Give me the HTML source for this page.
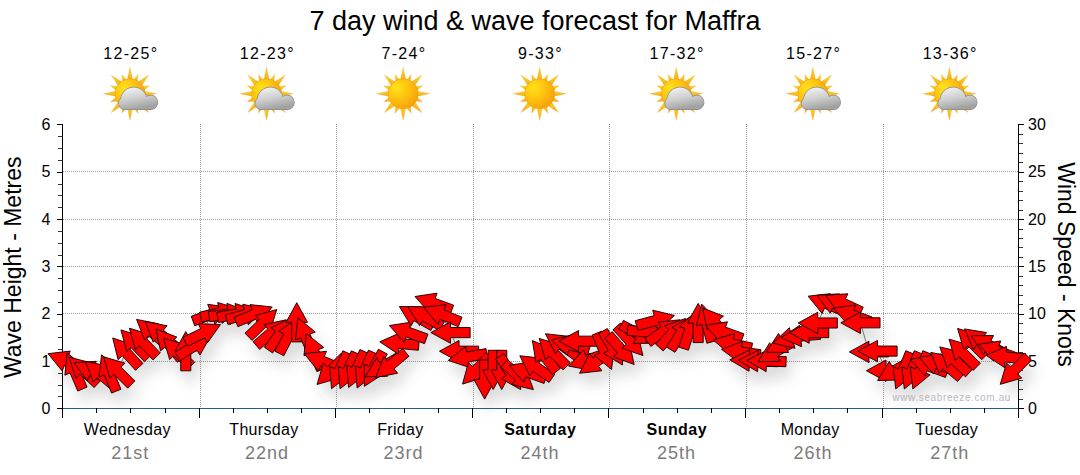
<!DOCTYPE html><html><head><meta charset="utf-8"><title>7 day wind &amp; wave forecast for Maffra</title>
<style>html,body{margin:0;padding:0;background:#fff;width:1080px;height:475px;overflow:hidden}svg{display:block}text{font-family:"Liberation Sans",sans-serif}</style></head><body>
<svg width="1080" height="475" viewBox="0 0 1080 475">
<defs><radialGradient id="sunG" cx="0.3" cy="0.3" r="0.85"><stop offset="0" stop-color="#FFE21A"/><stop offset="0.5" stop-color="#FFBE0E"/><stop offset="1" stop-color="#F29A0C"/></radialGradient><linearGradient id="rayG" x1="0" y1="0" x2="0" y2="1"><stop offset="0" stop-color="#FFD820"/><stop offset="1" stop-color="#F5A61C"/></linearGradient><linearGradient id="cloudG" x1="0" y1="0" x2="0.3" y2="1"><stop offset="0" stop-color="#F2F2F2"/><stop offset="0.55" stop-color="#C8C8C8"/><stop offset="1" stop-color="#9E9E9E"/></linearGradient><linearGradient id="cloudGU" gradientUnits="userSpaceOnUse" x1="0" y1="-6" x2="4" y2="15.5"><stop offset="0" stop-color="#F0F0F0"/><stop offset="0.5" stop-color="#CFCFCF"/><stop offset="1" stop-color="#A2A2A2"/></linearGradient><clipPath id="cloudClipO"><rect x="-30" y="-30" width="70" height="46.2"/></clipPath><clipPath id="cloudClipI"><rect x="-30" y="-30" width="70" height="45.5"/></clipPath><filter id="shadow" x="-20%" y="-50%" width="140%" height="200%"><feGaussianBlur stdDeviation="7"/></filter></defs>
<text x="535" y="29.8" font-size="27" text-anchor="middle" fill="#000">7 day wind &amp; wave forecast for Maffra</text>
<text x="130.8" y="58.8" font-size="16" letter-spacing="1.3" text-anchor="middle" fill="#000">12-25°</text>
<polygon points="132.99,81.30 129.99,67.30 126.99,81.30" fill="url(#rayG)" stroke="#e8a020" stroke-width="0.4" stroke-opacity="0.6"/><polygon points="137.17,83.25 138.02,74.40 132.37,81.26" fill="url(#rayG)" stroke="#e8a020" stroke-width="0.4" stroke-opacity="0.6"/><polygon points="140.95,87.08 148.72,75.06 136.70,82.84" fill="url(#rayG)" stroke="#e8a020" stroke-width="0.4" stroke-opacity="0.6"/><polygon points="142.53,91.42 149.39,85.76 140.54,86.61" fill="url(#rayG)" stroke="#e8a020" stroke-width="0.4" stroke-opacity="0.6"/><polygon points="142.49,96.80 156.49,93.80 142.49,90.80" fill="url(#rayG)" stroke="#e8a020" stroke-width="0.4" stroke-opacity="0.6"/><polygon points="140.54,100.99 149.39,101.84 142.53,96.18" fill="url(#rayG)" stroke="#e8a020" stroke-width="0.4" stroke-opacity="0.6"/><polygon points="136.70,104.76 148.72,112.54 140.95,100.52" fill="url(#rayG)" stroke="#e8a020" stroke-width="0.4" stroke-opacity="0.6"/><polygon points="132.37,106.34 138.02,113.20 137.17,104.35" fill="url(#rayG)" stroke="#e8a020" stroke-width="0.4" stroke-opacity="0.6"/><polygon points="126.99,106.30 129.99,120.30 132.99,106.30" fill="url(#rayG)" stroke="#e8a020" stroke-width="0.4" stroke-opacity="0.6"/><polygon points="122.80,104.35 121.95,113.20 127.60,106.34" fill="url(#rayG)" stroke="#e8a020" stroke-width="0.4" stroke-opacity="0.6"/><polygon points="119.03,100.52 111.25,112.54 123.27,104.76" fill="url(#rayG)" stroke="#e8a020" stroke-width="0.4" stroke-opacity="0.6"/><polygon points="117.44,96.18 110.58,101.84 119.43,100.99" fill="url(#rayG)" stroke="#e8a020" stroke-width="0.4" stroke-opacity="0.6"/><polygon points="117.49,90.80 103.49,93.80 117.49,96.80" fill="url(#rayG)" stroke="#e8a020" stroke-width="0.4" stroke-opacity="0.6"/><polygon points="119.43,86.61 110.58,85.76 117.44,91.42" fill="url(#rayG)" stroke="#e8a020" stroke-width="0.4" stroke-opacity="0.6"/><polygon points="123.27,82.84 111.25,75.06 119.03,87.08" fill="url(#rayG)" stroke="#e8a020" stroke-width="0.4" stroke-opacity="0.6"/><polygon points="127.60,81.26 121.95,74.40 122.80,83.25" fill="url(#rayG)" stroke="#e8a020" stroke-width="0.4" stroke-opacity="0.6"/><circle cx="130.0" cy="93.8" r="15" fill="url(#sunG)" stroke="#e89a10" stroke-width="0.5"/>
<g transform="translate(129.99,93.80)"><g clip-path="url(#cloudClipO)"><g fill="#8a8a8a" stroke="#8a8a8a" stroke-width="1.3"><circle cx="3.8" cy="6.6" r="12.9"/><circle cx="20.6" cy="8.6" r="6.9"/><circle cx="-5.3" cy="9.6" r="5.9"/><rect x="-5.3" y="8" width="25.9" height="7.5"/></g></g><g clip-path="url(#cloudClipI)" fill="url(#cloudGU)"><circle cx="3.8" cy="6.6" r="12.9"/><circle cx="20.6" cy="8.6" r="6.9"/><circle cx="-5.3" cy="9.6" r="5.9"/><rect x="-5.3" y="8" width="25.9" height="7.5"/></g></g>
<text x="267.4" y="58.8" font-size="16" letter-spacing="1.3" text-anchor="middle" fill="#000">12-23°</text>
<polygon points="269.56,81.30 266.56,67.30 263.56,81.30" fill="url(#rayG)" stroke="#e8a020" stroke-width="0.4" stroke-opacity="0.6"/><polygon points="273.74,83.25 274.59,74.40 268.94,81.26" fill="url(#rayG)" stroke="#e8a020" stroke-width="0.4" stroke-opacity="0.6"/><polygon points="277.52,87.08 285.30,75.06 273.27,82.84" fill="url(#rayG)" stroke="#e8a020" stroke-width="0.4" stroke-opacity="0.6"/><polygon points="279.10,91.42 285.96,85.76 277.11,86.61" fill="url(#rayG)" stroke="#e8a020" stroke-width="0.4" stroke-opacity="0.6"/><polygon points="279.06,96.80 293.06,93.80 279.06,90.80" fill="url(#rayG)" stroke="#e8a020" stroke-width="0.4" stroke-opacity="0.6"/><polygon points="277.11,100.99 285.96,101.84 279.10,96.18" fill="url(#rayG)" stroke="#e8a020" stroke-width="0.4" stroke-opacity="0.6"/><polygon points="273.27,104.76 285.30,112.54 277.52,100.52" fill="url(#rayG)" stroke="#e8a020" stroke-width="0.4" stroke-opacity="0.6"/><polygon points="268.94,106.34 274.59,113.20 273.74,104.35" fill="url(#rayG)" stroke="#e8a020" stroke-width="0.4" stroke-opacity="0.6"/><polygon points="263.56,106.30 266.56,120.30 269.56,106.30" fill="url(#rayG)" stroke="#e8a020" stroke-width="0.4" stroke-opacity="0.6"/><polygon points="259.37,104.35 258.52,113.20 264.18,106.34" fill="url(#rayG)" stroke="#e8a020" stroke-width="0.4" stroke-opacity="0.6"/><polygon points="255.60,100.52 247.82,112.54 259.84,104.76" fill="url(#rayG)" stroke="#e8a020" stroke-width="0.4" stroke-opacity="0.6"/><polygon points="254.01,96.18 247.16,101.84 256.00,100.99" fill="url(#rayG)" stroke="#e8a020" stroke-width="0.4" stroke-opacity="0.6"/><polygon points="254.06,90.80 240.06,93.80 254.06,96.80" fill="url(#rayG)" stroke="#e8a020" stroke-width="0.4" stroke-opacity="0.6"/><polygon points="256.00,86.61 247.16,85.76 254.01,91.42" fill="url(#rayG)" stroke="#e8a020" stroke-width="0.4" stroke-opacity="0.6"/><polygon points="259.84,82.84 247.82,75.06 255.60,87.08" fill="url(#rayG)" stroke="#e8a020" stroke-width="0.4" stroke-opacity="0.6"/><polygon points="264.18,81.26 258.52,74.40 259.37,83.25" fill="url(#rayG)" stroke="#e8a020" stroke-width="0.4" stroke-opacity="0.6"/><circle cx="266.6" cy="93.8" r="15" fill="url(#sunG)" stroke="#e89a10" stroke-width="0.5"/>
<g transform="translate(266.56,93.80)"><g clip-path="url(#cloudClipO)"><g fill="#8a8a8a" stroke="#8a8a8a" stroke-width="1.3"><circle cx="3.8" cy="6.6" r="12.9"/><circle cx="20.6" cy="8.6" r="6.9"/><circle cx="-5.3" cy="9.6" r="5.9"/><rect x="-5.3" y="8" width="25.9" height="7.5"/></g></g><g clip-path="url(#cloudClipI)" fill="url(#cloudGU)"><circle cx="3.8" cy="6.6" r="12.9"/><circle cx="20.6" cy="8.6" r="6.9"/><circle cx="-5.3" cy="9.6" r="5.9"/><rect x="-5.3" y="8" width="25.9" height="7.5"/></g></g>
<text x="403.9" y="58.8" font-size="16" letter-spacing="1.3" text-anchor="middle" fill="#000">7-24°</text>
<polygon points="406.13,81.30 403.13,67.30 400.13,81.30" fill="url(#rayG)" stroke="#e8a020" stroke-width="0.4" stroke-opacity="0.6"/><polygon points="410.31,83.25 411.16,74.40 405.51,81.26" fill="url(#rayG)" stroke="#e8a020" stroke-width="0.4" stroke-opacity="0.6"/><polygon points="414.09,87.08 421.87,75.06 409.85,82.84" fill="url(#rayG)" stroke="#e8a020" stroke-width="0.4" stroke-opacity="0.6"/><polygon points="415.67,91.42 422.53,85.76 413.68,86.61" fill="url(#rayG)" stroke="#e8a020" stroke-width="0.4" stroke-opacity="0.6"/><polygon points="415.63,96.80 429.63,93.80 415.63,90.80" fill="url(#rayG)" stroke="#e8a020" stroke-width="0.4" stroke-opacity="0.6"/><polygon points="413.68,100.99 422.53,101.84 415.67,96.18" fill="url(#rayG)" stroke="#e8a020" stroke-width="0.4" stroke-opacity="0.6"/><polygon points="409.85,104.76 421.87,112.54 414.09,100.52" fill="url(#rayG)" stroke="#e8a020" stroke-width="0.4" stroke-opacity="0.6"/><polygon points="405.51,106.34 411.16,113.20 410.31,104.35" fill="url(#rayG)" stroke="#e8a020" stroke-width="0.4" stroke-opacity="0.6"/><polygon points="400.13,106.30 403.13,120.30 406.13,106.30" fill="url(#rayG)" stroke="#e8a020" stroke-width="0.4" stroke-opacity="0.6"/><polygon points="395.94,104.35 395.09,113.20 400.75,106.34" fill="url(#rayG)" stroke="#e8a020" stroke-width="0.4" stroke-opacity="0.6"/><polygon points="392.17,100.52 384.39,112.54 396.41,104.76" fill="url(#rayG)" stroke="#e8a020" stroke-width="0.4" stroke-opacity="0.6"/><polygon points="390.59,96.18 383.73,101.84 392.58,100.99" fill="url(#rayG)" stroke="#e8a020" stroke-width="0.4" stroke-opacity="0.6"/><polygon points="390.63,90.80 376.63,93.80 390.63,96.80" fill="url(#rayG)" stroke="#e8a020" stroke-width="0.4" stroke-opacity="0.6"/><polygon points="392.58,86.61 383.73,85.76 390.59,91.42" fill="url(#rayG)" stroke="#e8a020" stroke-width="0.4" stroke-opacity="0.6"/><polygon points="396.41,82.84 384.39,75.06 392.17,87.08" fill="url(#rayG)" stroke="#e8a020" stroke-width="0.4" stroke-opacity="0.6"/><polygon points="400.75,81.26 395.09,74.40 395.94,83.25" fill="url(#rayG)" stroke="#e8a020" stroke-width="0.4" stroke-opacity="0.6"/><circle cx="403.1" cy="93.8" r="15" fill="url(#sunG)" stroke="#e89a10" stroke-width="0.5"/>
<text x="540.5" y="58.8" font-size="16" letter-spacing="1.3" text-anchor="middle" fill="#000">9-33°</text>
<polygon points="542.70,81.30 539.70,67.30 536.70,81.30" fill="url(#rayG)" stroke="#e8a020" stroke-width="0.4" stroke-opacity="0.6"/><polygon points="546.89,83.25 547.74,74.40 542.08,81.26" fill="url(#rayG)" stroke="#e8a020" stroke-width="0.4" stroke-opacity="0.6"/><polygon points="550.66,87.08 558.44,75.06 546.42,82.84" fill="url(#rayG)" stroke="#e8a020" stroke-width="0.4" stroke-opacity="0.6"/><polygon points="552.24,91.42 559.10,85.76 550.25,86.61" fill="url(#rayG)" stroke="#e8a020" stroke-width="0.4" stroke-opacity="0.6"/><polygon points="552.20,96.80 566.20,93.80 552.20,90.80" fill="url(#rayG)" stroke="#e8a020" stroke-width="0.4" stroke-opacity="0.6"/><polygon points="550.25,100.99 559.10,101.84 552.24,96.18" fill="url(#rayG)" stroke="#e8a020" stroke-width="0.4" stroke-opacity="0.6"/><polygon points="546.42,104.76 558.44,112.54 550.66,100.52" fill="url(#rayG)" stroke="#e8a020" stroke-width="0.4" stroke-opacity="0.6"/><polygon points="542.08,106.34 547.74,113.20 546.89,104.35" fill="url(#rayG)" stroke="#e8a020" stroke-width="0.4" stroke-opacity="0.6"/><polygon points="536.70,106.30 539.70,120.30 542.70,106.30" fill="url(#rayG)" stroke="#e8a020" stroke-width="0.4" stroke-opacity="0.6"/><polygon points="532.51,104.35 531.66,113.20 537.32,106.34" fill="url(#rayG)" stroke="#e8a020" stroke-width="0.4" stroke-opacity="0.6"/><polygon points="528.74,100.52 520.96,112.54 532.98,104.76" fill="url(#rayG)" stroke="#e8a020" stroke-width="0.4" stroke-opacity="0.6"/><polygon points="527.16,96.18 520.30,101.84 529.15,100.99" fill="url(#rayG)" stroke="#e8a020" stroke-width="0.4" stroke-opacity="0.6"/><polygon points="527.20,90.80 513.20,93.80 527.20,96.80" fill="url(#rayG)" stroke="#e8a020" stroke-width="0.4" stroke-opacity="0.6"/><polygon points="529.15,86.61 520.30,85.76 527.16,91.42" fill="url(#rayG)" stroke="#e8a020" stroke-width="0.4" stroke-opacity="0.6"/><polygon points="532.98,82.84 520.96,75.06 528.74,87.08" fill="url(#rayG)" stroke="#e8a020" stroke-width="0.4" stroke-opacity="0.6"/><polygon points="537.32,81.26 531.66,74.40 532.51,83.25" fill="url(#rayG)" stroke="#e8a020" stroke-width="0.4" stroke-opacity="0.6"/><circle cx="539.7" cy="93.8" r="15" fill="url(#sunG)" stroke="#e89a10" stroke-width="0.5"/>
<text x="677.1" y="58.8" font-size="16" letter-spacing="1.3" text-anchor="middle" fill="#000">17-32°</text>
<polygon points="679.27,81.30 676.27,67.30 673.27,81.30" fill="url(#rayG)" stroke="#e8a020" stroke-width="0.4" stroke-opacity="0.6"/><polygon points="683.46,83.25 684.31,74.40 678.65,81.26" fill="url(#rayG)" stroke="#e8a020" stroke-width="0.4" stroke-opacity="0.6"/><polygon points="687.23,87.08 695.01,75.06 682.99,82.84" fill="url(#rayG)" stroke="#e8a020" stroke-width="0.4" stroke-opacity="0.6"/><polygon points="688.81,91.42 695.67,85.76 686.82,86.61" fill="url(#rayG)" stroke="#e8a020" stroke-width="0.4" stroke-opacity="0.6"/><polygon points="688.77,96.80 702.77,93.80 688.77,90.80" fill="url(#rayG)" stroke="#e8a020" stroke-width="0.4" stroke-opacity="0.6"/><polygon points="686.82,100.99 695.67,101.84 688.81,96.18" fill="url(#rayG)" stroke="#e8a020" stroke-width="0.4" stroke-opacity="0.6"/><polygon points="682.99,104.76 695.01,112.54 687.23,100.52" fill="url(#rayG)" stroke="#e8a020" stroke-width="0.4" stroke-opacity="0.6"/><polygon points="678.65,106.34 684.31,113.20 683.46,104.35" fill="url(#rayG)" stroke="#e8a020" stroke-width="0.4" stroke-opacity="0.6"/><polygon points="673.27,106.30 676.27,120.30 679.27,106.30" fill="url(#rayG)" stroke="#e8a020" stroke-width="0.4" stroke-opacity="0.6"/><polygon points="669.09,104.35 668.24,113.20 673.89,106.34" fill="url(#rayG)" stroke="#e8a020" stroke-width="0.4" stroke-opacity="0.6"/><polygon points="665.31,100.52 657.53,112.54 669.55,104.76" fill="url(#rayG)" stroke="#e8a020" stroke-width="0.4" stroke-opacity="0.6"/><polygon points="663.73,96.18 656.87,101.84 665.72,100.99" fill="url(#rayG)" stroke="#e8a020" stroke-width="0.4" stroke-opacity="0.6"/><polygon points="663.77,90.80 649.77,93.80 663.77,96.80" fill="url(#rayG)" stroke="#e8a020" stroke-width="0.4" stroke-opacity="0.6"/><polygon points="665.72,86.61 656.87,85.76 663.73,91.42" fill="url(#rayG)" stroke="#e8a020" stroke-width="0.4" stroke-opacity="0.6"/><polygon points="669.55,82.84 657.53,75.06 665.31,87.08" fill="url(#rayG)" stroke="#e8a020" stroke-width="0.4" stroke-opacity="0.6"/><polygon points="673.89,81.26 668.24,74.40 669.09,83.25" fill="url(#rayG)" stroke="#e8a020" stroke-width="0.4" stroke-opacity="0.6"/><circle cx="676.3" cy="93.8" r="15" fill="url(#sunG)" stroke="#e89a10" stroke-width="0.5"/>
<g transform="translate(676.27,93.80)"><g clip-path="url(#cloudClipO)"><g fill="#8a8a8a" stroke="#8a8a8a" stroke-width="1.3"><circle cx="3.8" cy="6.6" r="12.9"/><circle cx="20.6" cy="8.6" r="6.9"/><circle cx="-5.3" cy="9.6" r="5.9"/><rect x="-5.3" y="8" width="25.9" height="7.5"/></g></g><g clip-path="url(#cloudClipI)" fill="url(#cloudGU)"><circle cx="3.8" cy="6.6" r="12.9"/><circle cx="20.6" cy="8.6" r="6.9"/><circle cx="-5.3" cy="9.6" r="5.9"/><rect x="-5.3" y="8" width="25.9" height="7.5"/></g></g>
<text x="813.6" y="58.8" font-size="16" letter-spacing="1.3" text-anchor="middle" fill="#000">15-27°</text>
<polygon points="815.84,81.30 812.84,67.30 809.84,81.30" fill="url(#rayG)" stroke="#e8a020" stroke-width="0.4" stroke-opacity="0.6"/><polygon points="820.03,83.25 820.88,74.40 815.22,81.26" fill="url(#rayG)" stroke="#e8a020" stroke-width="0.4" stroke-opacity="0.6"/><polygon points="823.80,87.08 831.58,75.06 819.56,82.84" fill="url(#rayG)" stroke="#e8a020" stroke-width="0.4" stroke-opacity="0.6"/><polygon points="825.39,91.42 832.24,85.76 823.40,86.61" fill="url(#rayG)" stroke="#e8a020" stroke-width="0.4" stroke-opacity="0.6"/><polygon points="825.34,96.80 839.34,93.80 825.34,90.80" fill="url(#rayG)" stroke="#e8a020" stroke-width="0.4" stroke-opacity="0.6"/><polygon points="823.40,100.99 832.24,101.84 825.39,96.18" fill="url(#rayG)" stroke="#e8a020" stroke-width="0.4" stroke-opacity="0.6"/><polygon points="819.56,104.76 831.58,112.54 823.80,100.52" fill="url(#rayG)" stroke="#e8a020" stroke-width="0.4" stroke-opacity="0.6"/><polygon points="815.22,106.34 820.88,113.20 820.03,104.35" fill="url(#rayG)" stroke="#e8a020" stroke-width="0.4" stroke-opacity="0.6"/><polygon points="809.84,106.30 812.84,120.30 815.84,106.30" fill="url(#rayG)" stroke="#e8a020" stroke-width="0.4" stroke-opacity="0.6"/><polygon points="805.66,104.35 804.81,113.20 810.46,106.34" fill="url(#rayG)" stroke="#e8a020" stroke-width="0.4" stroke-opacity="0.6"/><polygon points="801.88,100.52 794.10,112.54 806.13,104.76" fill="url(#rayG)" stroke="#e8a020" stroke-width="0.4" stroke-opacity="0.6"/><polygon points="800.30,96.18 793.44,101.84 802.29,100.99" fill="url(#rayG)" stroke="#e8a020" stroke-width="0.4" stroke-opacity="0.6"/><polygon points="800.34,90.80 786.34,93.80 800.34,96.80" fill="url(#rayG)" stroke="#e8a020" stroke-width="0.4" stroke-opacity="0.6"/><polygon points="802.29,86.61 793.44,85.76 800.30,91.42" fill="url(#rayG)" stroke="#e8a020" stroke-width="0.4" stroke-opacity="0.6"/><polygon points="806.13,82.84 794.10,75.06 801.88,87.08" fill="url(#rayG)" stroke="#e8a020" stroke-width="0.4" stroke-opacity="0.6"/><polygon points="810.46,81.26 804.81,74.40 805.66,83.25" fill="url(#rayG)" stroke="#e8a020" stroke-width="0.4" stroke-opacity="0.6"/><circle cx="812.8" cy="93.8" r="15" fill="url(#sunG)" stroke="#e89a10" stroke-width="0.5"/>
<g transform="translate(812.84,93.80)"><g clip-path="url(#cloudClipO)"><g fill="#8a8a8a" stroke="#8a8a8a" stroke-width="1.3"><circle cx="3.8" cy="6.6" r="12.9"/><circle cx="20.6" cy="8.6" r="6.9"/><circle cx="-5.3" cy="9.6" r="5.9"/><rect x="-5.3" y="8" width="25.9" height="7.5"/></g></g><g clip-path="url(#cloudClipI)" fill="url(#cloudGU)"><circle cx="3.8" cy="6.6" r="12.9"/><circle cx="20.6" cy="8.6" r="6.9"/><circle cx="-5.3" cy="9.6" r="5.9"/><rect x="-5.3" y="8" width="25.9" height="7.5"/></g></g>
<text x="950.2" y="58.8" font-size="16" letter-spacing="1.3" text-anchor="middle" fill="#000">13-36°</text>
<polygon points="952.41,81.30 949.41,67.30 946.41,81.30" fill="url(#rayG)" stroke="#e8a020" stroke-width="0.4" stroke-opacity="0.6"/><polygon points="956.60,83.25 957.45,74.40 951.80,81.26" fill="url(#rayG)" stroke="#e8a020" stroke-width="0.4" stroke-opacity="0.6"/><polygon points="960.37,87.08 968.15,75.06 956.13,82.84" fill="url(#rayG)" stroke="#e8a020" stroke-width="0.4" stroke-opacity="0.6"/><polygon points="961.96,91.42 968.82,85.76 959.97,86.61" fill="url(#rayG)" stroke="#e8a020" stroke-width="0.4" stroke-opacity="0.6"/><polygon points="961.91,96.80 975.91,93.80 961.91,90.80" fill="url(#rayG)" stroke="#e8a020" stroke-width="0.4" stroke-opacity="0.6"/><polygon points="959.97,100.99 968.82,101.84 961.96,96.18" fill="url(#rayG)" stroke="#e8a020" stroke-width="0.4" stroke-opacity="0.6"/><polygon points="956.13,104.76 968.15,112.54 960.37,100.52" fill="url(#rayG)" stroke="#e8a020" stroke-width="0.4" stroke-opacity="0.6"/><polygon points="951.80,106.34 957.45,113.20 956.60,104.35" fill="url(#rayG)" stroke="#e8a020" stroke-width="0.4" stroke-opacity="0.6"/><polygon points="946.41,106.30 949.41,120.30 952.41,106.30" fill="url(#rayG)" stroke="#e8a020" stroke-width="0.4" stroke-opacity="0.6"/><polygon points="942.23,104.35 941.38,113.20 947.03,106.34" fill="url(#rayG)" stroke="#e8a020" stroke-width="0.4" stroke-opacity="0.6"/><polygon points="938.45,100.52 930.68,112.54 942.70,104.76" fill="url(#rayG)" stroke="#e8a020" stroke-width="0.4" stroke-opacity="0.6"/><polygon points="936.87,96.18 930.01,101.84 938.86,100.99" fill="url(#rayG)" stroke="#e8a020" stroke-width="0.4" stroke-opacity="0.6"/><polygon points="936.91,90.80 922.91,93.80 936.91,96.80" fill="url(#rayG)" stroke="#e8a020" stroke-width="0.4" stroke-opacity="0.6"/><polygon points="938.86,86.61 930.01,85.76 936.87,91.42" fill="url(#rayG)" stroke="#e8a020" stroke-width="0.4" stroke-opacity="0.6"/><polygon points="942.70,82.84 930.68,75.06 938.45,87.08" fill="url(#rayG)" stroke="#e8a020" stroke-width="0.4" stroke-opacity="0.6"/><polygon points="947.03,81.26 941.38,74.40 942.23,83.25" fill="url(#rayG)" stroke="#e8a020" stroke-width="0.4" stroke-opacity="0.6"/><circle cx="949.4" cy="93.8" r="15" fill="url(#sunG)" stroke="#e89a10" stroke-width="0.5"/>
<g transform="translate(949.41,93.80)"><g clip-path="url(#cloudClipO)"><g fill="#8a8a8a" stroke="#8a8a8a" stroke-width="1.3"><circle cx="3.8" cy="6.6" r="12.9"/><circle cx="20.6" cy="8.6" r="6.9"/><circle cx="-5.3" cy="9.6" r="5.9"/><rect x="-5.3" y="8" width="25.9" height="7.5"/></g></g><g clip-path="url(#cloudClipI)" fill="url(#cloudGU)"><circle cx="3.8" cy="6.6" r="12.9"/><circle cx="20.6" cy="8.6" r="6.9"/><circle cx="-5.3" cy="9.6" r="5.9"/><rect x="-5.3" y="8" width="25.9" height="7.5"/></g></g>
<line x1="63" y1="361.5" x2="1018" y2="361.5" stroke="#9a9a9a" stroke-width="1" stroke-dasharray="1,1" shape-rendering="crispEdges"/>
<line x1="63" y1="313.5" x2="1018" y2="313.5" stroke="#9a9a9a" stroke-width="1" stroke-dasharray="1,1" shape-rendering="crispEdges"/>
<line x1="63" y1="266.5" x2="1018" y2="266.5" stroke="#9a9a9a" stroke-width="1" stroke-dasharray="1,1" shape-rendering="crispEdges"/>
<line x1="63" y1="219.5" x2="1018" y2="219.5" stroke="#9a9a9a" stroke-width="1" stroke-dasharray="1,1" shape-rendering="crispEdges"/>
<line x1="63" y1="171.5" x2="1018" y2="171.5" stroke="#9a9a9a" stroke-width="1" stroke-dasharray="1,1" shape-rendering="crispEdges"/>
<line x1="200.5" y1="124" x2="200.5" y2="408" stroke="#9a9a9a" stroke-width="1" stroke-dasharray="1,1" shape-rendering="crispEdges"/>
<line x1="336.5" y1="124" x2="336.5" y2="408" stroke="#9a9a9a" stroke-width="1" stroke-dasharray="1,1" shape-rendering="crispEdges"/>
<line x1="473.5" y1="124" x2="473.5" y2="408" stroke="#9a9a9a" stroke-width="1" stroke-dasharray="1,1" shape-rendering="crispEdges"/>
<line x1="609.5" y1="124" x2="609.5" y2="408" stroke="#9a9a9a" stroke-width="1" stroke-dasharray="1,1" shape-rendering="crispEdges"/>
<line x1="746.5" y1="124" x2="746.5" y2="408" stroke="#9a9a9a" stroke-width="1" stroke-dasharray="1,1" shape-rendering="crispEdges"/>
<line x1="883.5" y1="124" x2="883.5" y2="408" stroke="#9a9a9a" stroke-width="1" stroke-dasharray="1,1" shape-rendering="crispEdges"/>
<text x="1011" y="401" font-size="10" letter-spacing="0.62" text-anchor="end" fill="#bdbac6">www.seabreeze.com.au</text>
<g shape-rendering="crispEdges">
<line x1="62.5" y1="124" x2="62.5" y2="417.5" stroke="#000" stroke-width="1.2"/>
<line x1="1018.5" y1="124" x2="1018.5" y2="409" stroke="#000" stroke-width="1.2"/>
<line x1="62" y1="408.5" x2="1018" y2="408.5" stroke="#1f5f8f" stroke-width="1.6"/>
<line x1="57" y1="408.5" x2="62.5" y2="408.5" stroke="#000"/>
<line x1="58" y1="396.5" x2="62.5" y2="396.5" stroke="#333"/>
<line x1="58" y1="385.5" x2="62.5" y2="385.5" stroke="#333"/>
<line x1="58" y1="373.5" x2="62.5" y2="373.5" stroke="#333"/>
<line x1="57" y1="361.5" x2="62.5" y2="361.5" stroke="#000"/>
<line x1="58" y1="349.5" x2="62.5" y2="349.5" stroke="#333"/>
<line x1="58" y1="337.5" x2="62.5" y2="337.5" stroke="#333"/>
<line x1="58" y1="326.5" x2="62.5" y2="326.5" stroke="#333"/>
<line x1="57" y1="314.5" x2="62.5" y2="314.5" stroke="#000"/>
<line x1="58" y1="302.5" x2="62.5" y2="302.5" stroke="#333"/>
<line x1="58" y1="290.5" x2="62.5" y2="290.5" stroke="#333"/>
<line x1="58" y1="278.5" x2="62.5" y2="278.5" stroke="#333"/>
<line x1="57" y1="266.5" x2="62.5" y2="266.5" stroke="#000"/>
<line x1="58" y1="255.5" x2="62.5" y2="255.5" stroke="#333"/>
<line x1="58" y1="243.5" x2="62.5" y2="243.5" stroke="#333"/>
<line x1="58" y1="231.5" x2="62.5" y2="231.5" stroke="#333"/>
<line x1="57" y1="219.5" x2="62.5" y2="219.5" stroke="#000"/>
<line x1="58" y1="207.5" x2="62.5" y2="207.5" stroke="#333"/>
<line x1="58" y1="195.5" x2="62.5" y2="195.5" stroke="#333"/>
<line x1="58" y1="184.5" x2="62.5" y2="184.5" stroke="#333"/>
<line x1="57" y1="172.5" x2="62.5" y2="172.5" stroke="#000"/>
<line x1="58" y1="160.5" x2="62.5" y2="160.5" stroke="#333"/>
<line x1="58" y1="148.5" x2="62.5" y2="148.5" stroke="#333"/>
<line x1="58" y1="136.5" x2="62.5" y2="136.5" stroke="#333"/>
<line x1="57" y1="124.5" x2="62.5" y2="124.5" stroke="#000"/>
<line x1="1018.5" y1="408.5" x2="1024" y2="408.5" stroke="#000"/>
<line x1="1018.5" y1="399.5" x2="1023" y2="399.5" stroke="#333"/>
<line x1="1018.5" y1="389.5" x2="1023" y2="389.5" stroke="#333"/>
<line x1="1018.5" y1="380.5" x2="1023" y2="380.5" stroke="#333"/>
<line x1="1018.5" y1="370.5" x2="1023" y2="370.5" stroke="#333"/>
<line x1="1018.5" y1="361.5" x2="1024" y2="361.5" stroke="#000"/>
<line x1="1018.5" y1="352.5" x2="1023" y2="352.5" stroke="#333"/>
<line x1="1018.5" y1="342.5" x2="1023" y2="342.5" stroke="#333"/>
<line x1="1018.5" y1="333.5" x2="1023" y2="333.5" stroke="#333"/>
<line x1="1018.5" y1="323.5" x2="1023" y2="323.5" stroke="#333"/>
<line x1="1018.5" y1="314.5" x2="1024" y2="314.5" stroke="#000"/>
<line x1="1018.5" y1="304.5" x2="1023" y2="304.5" stroke="#333"/>
<line x1="1018.5" y1="295.5" x2="1023" y2="295.5" stroke="#333"/>
<line x1="1018.5" y1="285.5" x2="1023" y2="285.5" stroke="#333"/>
<line x1="1018.5" y1="276.5" x2="1023" y2="276.5" stroke="#333"/>
<line x1="1018.5" y1="266.5" x2="1024" y2="266.5" stroke="#000"/>
<line x1="1018.5" y1="257.5" x2="1023" y2="257.5" stroke="#333"/>
<line x1="1018.5" y1="247.5" x2="1023" y2="247.5" stroke="#333"/>
<line x1="1018.5" y1="238.5" x2="1023" y2="238.5" stroke="#333"/>
<line x1="1018.5" y1="229.5" x2="1023" y2="229.5" stroke="#333"/>
<line x1="1018.5" y1="219.5" x2="1024" y2="219.5" stroke="#000"/>
<line x1="1018.5" y1="210.5" x2="1023" y2="210.5" stroke="#333"/>
<line x1="1018.5" y1="200.5" x2="1023" y2="200.5" stroke="#333"/>
<line x1="1018.5" y1="191.5" x2="1023" y2="191.5" stroke="#333"/>
<line x1="1018.5" y1="181.5" x2="1023" y2="181.5" stroke="#333"/>
<line x1="1018.5" y1="172.5" x2="1024" y2="172.5" stroke="#000"/>
<line x1="1018.5" y1="162.5" x2="1023" y2="162.5" stroke="#333"/>
<line x1="1018.5" y1="153.5" x2="1023" y2="153.5" stroke="#333"/>
<line x1="1018.5" y1="143.5" x2="1023" y2="143.5" stroke="#333"/>
<line x1="1018.5" y1="134.5" x2="1023" y2="134.5" stroke="#333"/>
<line x1="1018.5" y1="124.5" x2="1024" y2="124.5" stroke="#000"/>
<line x1="62.5" y1="408" x2="62.5" y2="417.5" stroke="#000" stroke-width="1.2"/>
<line x1="96.5" y1="408" x2="96.5" y2="413" stroke="#000"/>
<line x1="130.5" y1="408" x2="130.5" y2="413" stroke="#000"/>
<line x1="165.5" y1="408" x2="165.5" y2="413" stroke="#000"/>
<line x1="199.5" y1="408" x2="199.5" y2="417.5" stroke="#000" stroke-width="1.2"/>
<line x1="233.5" y1="408" x2="233.5" y2="413" stroke="#000"/>
<line x1="267.5" y1="408" x2="267.5" y2="413" stroke="#000"/>
<line x1="301.5" y1="408" x2="301.5" y2="413" stroke="#000"/>
<line x1="335.5" y1="408" x2="335.5" y2="417.5" stroke="#000" stroke-width="1.2"/>
<line x1="369.5" y1="408" x2="369.5" y2="413" stroke="#000"/>
<line x1="404.5" y1="408" x2="404.5" y2="413" stroke="#000"/>
<line x1="438.5" y1="408" x2="438.5" y2="413" stroke="#000"/>
<line x1="472.5" y1="408" x2="472.5" y2="417.5" stroke="#000" stroke-width="1.2"/>
<line x1="506.5" y1="408" x2="506.5" y2="413" stroke="#000"/>
<line x1="540.5" y1="408" x2="540.5" y2="413" stroke="#000"/>
<line x1="574.5" y1="408" x2="574.5" y2="413" stroke="#000"/>
<line x1="608.5" y1="408" x2="608.5" y2="417.5" stroke="#000" stroke-width="1.2"/>
<line x1="643.5" y1="408" x2="643.5" y2="413" stroke="#000"/>
<line x1="677.5" y1="408" x2="677.5" y2="413" stroke="#000"/>
<line x1="711.5" y1="408" x2="711.5" y2="413" stroke="#000"/>
<line x1="745.5" y1="408" x2="745.5" y2="417.5" stroke="#000" stroke-width="1.2"/>
<line x1="779.5" y1="408" x2="779.5" y2="413" stroke="#000"/>
<line x1="813.5" y1="408" x2="813.5" y2="413" stroke="#000"/>
<line x1="847.5" y1="408" x2="847.5" y2="413" stroke="#000"/>
<line x1="882.5" y1="408" x2="882.5" y2="417.5" stroke="#000" stroke-width="1.2"/>
<line x1="916.5" y1="408" x2="916.5" y2="413" stroke="#000"/>
<line x1="950.5" y1="408" x2="950.5" y2="413" stroke="#000"/>
<line x1="984.5" y1="408" x2="984.5" y2="413" stroke="#000"/>
<line x1="1018.5" y1="408" x2="1018.5" y2="417.5" stroke="#000" stroke-width="1.2"/>
</g>
<text x="50.5" y="413.9" font-size="16" text-anchor="end" fill="#000">0</text>
<text x="50.5" y="366.6" font-size="16" text-anchor="end" fill="#000">1</text>
<text x="50.5" y="319.3" font-size="16" text-anchor="end" fill="#000">2</text>
<text x="50.5" y="272.0" font-size="16" text-anchor="end" fill="#000">3</text>
<text x="50.5" y="224.7" font-size="16" text-anchor="end" fill="#000">4</text>
<text x="50.5" y="177.4" font-size="16" text-anchor="end" fill="#000">5</text>
<text x="50.5" y="130.1" font-size="16" text-anchor="end" fill="#000">6</text>
<text x="1028" y="413.9" font-size="16" fill="#000">0</text>
<text x="1028" y="366.6" font-size="16" fill="#000">5</text>
<text x="1028" y="319.3" font-size="16" fill="#000">10</text>
<text x="1028" y="272.0" font-size="16" fill="#000">15</text>
<text x="1028" y="224.7" font-size="16" fill="#000">20</text>
<text x="1028" y="177.4" font-size="16" fill="#000">25</text>
<text x="1028" y="130.1" font-size="16" fill="#000">30</text>
<text transform="translate(20.6,267.3) rotate(-90)" font-size="23" text-anchor="middle" fill="#000">Wave Height - Metres</text>
<text transform="translate(1058,264.5) rotate(90)" font-size="23" text-anchor="middle" fill="#000">Wind Speed - Knots</text>
<text x="127.3" y="434.6" font-size="16" letter-spacing="0.3" text-anchor="middle" fill="#000">Wednesday</text>
<text x="130.3" y="459" font-size="18" letter-spacing="1.0" text-anchor="middle" fill="#7b7b7b">21st</text>
<text x="263.9" y="434.6" font-size="16" letter-spacing="0.3" text-anchor="middle" fill="#000">Thursday</text>
<text x="266.9" y="459" font-size="18" letter-spacing="1.0" text-anchor="middle" fill="#7b7b7b">22nd</text>
<text x="400.4" y="434.6" font-size="16" letter-spacing="0.3" text-anchor="middle" fill="#000">Friday</text>
<text x="403.4" y="459" font-size="18" letter-spacing="1.0" text-anchor="middle" fill="#7b7b7b">23rd</text>
<text x="540.2" y="434.6" font-size="16" font-weight="bold" letter-spacing="0.45" text-anchor="middle" fill="#000">Saturday</text>
<text x="540.0" y="459" font-size="18" letter-spacing="1.0" text-anchor="middle" fill="#7b7b7b">24th</text>
<text x="676.8" y="434.6" font-size="16" font-weight="bold" letter-spacing="0.45" text-anchor="middle" fill="#000">Sunday</text>
<text x="676.6" y="459" font-size="18" letter-spacing="1.0" text-anchor="middle" fill="#7b7b7b">25th</text>
<text x="810.1" y="434.6" font-size="16" letter-spacing="0.3" text-anchor="middle" fill="#000">Monday</text>
<text x="813.1" y="459" font-size="18" letter-spacing="1.0" text-anchor="middle" fill="#7b7b7b">26th</text>
<text x="946.7" y="434.6" font-size="16" letter-spacing="0.3" text-anchor="middle" fill="#000">Tuesday</text>
<text x="949.7" y="459" font-size="18" letter-spacing="1.0" text-anchor="middle" fill="#7b7b7b">27th</text>
<clipPath id="plotclip"><rect x="0" y="0" width="1080" height="475"/></clipPath>
<g filter="url(#shadow)" opacity="0.22" transform="translate(5,12)">
<polygon points="48.03,353.66 70.21,351.08 68.09,356.32 86.26,363.66 82.48,373.02 64.31,365.68 62.19,370.92" fill="#606060"/>
<polygon points="67.08,352.96 84.59,366.82 79.39,369.03 87.05,387.07 77.75,391.02 70.09,372.97 64.89,375.18" fill="#606060"/>
<polygon points="68.95,357.13 90.58,362.67 86.72,366.81 101.06,380.17 94.17,387.56 79.84,374.19 75.98,378.33" fill="#606060"/>
<polygon points="74.06,362.72 96.34,361.30 93.95,366.42 111.72,374.71 107.45,383.86 89.69,375.58 87.30,380.70" fill="#606060"/>
<polygon points="85.35,361.40 107.24,365.80 103.61,370.13 118.62,382.73 112.13,390.47 97.11,377.87 93.48,382.20" fill="#606060"/>
<polygon points="101.56,354.83 118.82,368.99 113.58,371.11 120.92,389.28 111.56,393.06 104.22,374.89 98.98,377.01" fill="#606060"/>
<polygon points="103.58,356.84 125.01,363.13 121.01,367.13 134.87,380.99 127.73,388.13 113.87,374.27 109.87,378.27" fill="#606060"/>
<polygon points="112.71,337.97 133.86,345.16 129.70,348.98 142.96,363.41 135.53,370.25 122.26,355.82 118.10,359.64" fill="#606060"/>
<polygon points="120.90,329.90 142.22,336.57 138.15,340.49 151.77,354.59 144.50,361.61 130.89,347.51 126.82,351.43" fill="#606060"/>
<polygon points="129.44,328.20 150.76,334.87 146.69,338.79 160.31,352.89 153.04,359.91 139.43,345.81 135.36,349.73" fill="#606060"/>
<polygon points="136.59,319.40 158.48,323.80 154.85,328.13 169.86,340.73 163.37,348.47 148.35,335.87 144.72,340.20" fill="#606060"/>
<polygon points="145.13,321.40 167.02,325.80 163.39,330.13 178.40,342.73 171.91,350.47 156.89,337.87 153.26,342.20" fill="#606060"/>
<polygon points="156.08,328.99 176.88,337.12 172.55,340.75 185.15,355.77 177.41,362.26 164.81,347.25 160.48,350.88" fill="#606060"/>
<polygon points="163.36,338.14 184.79,344.43 180.79,348.43 194.65,362.29 187.51,369.43 173.65,355.57 169.65,359.57" fill="#606060"/>
<polygon points="185.76,331.60 196.46,351.20 190.81,351.20 190.81,370.80 180.71,370.80 180.71,351.20 175.06,351.20" fill="#606060"/>
<polygon points="210.92,335.61 199.97,355.07 196.98,350.28 180.35,360.67 175.00,352.10 191.62,341.72 188.63,336.93" fill="#606060"/>
<polygon points="220.46,324.61 207.53,342.82 205.05,337.74 187.44,346.33 183.01,337.25 200.63,328.66 198.15,323.58" fill="#606060"/>
<polygon points="229.80,307.60 215.04,324.35 213.11,319.05 194.69,325.75 191.23,316.26 209.65,309.55 207.72,304.25" fill="#606060"/>
<polygon points="239.09,308.92 222.14,323.47 220.97,317.94 201.80,322.01 199.70,312.14 218.87,308.06 217.70,302.53" fill="#606060"/>
<polygon points="247.87,311.27 229.95,324.60 229.16,319.00 209.75,321.73 208.35,311.73 227.76,309.00 226.97,303.40" fill="#606060"/>
<polygon points="256.30,310.60 238.86,324.54 237.88,318.97 218.57,322.38 216.82,312.43 236.12,309.03 235.14,303.46" fill="#606060"/>
<polygon points="264.47,309.43 248.31,324.84 246.85,319.38 227.91,324.45 225.30,314.69 244.23,309.62 242.77,304.16" fill="#606060"/>
<polygon points="272.19,307.00 258.17,324.39 256.01,319.17 237.90,326.67 234.04,317.34 252.15,309.83 249.99,304.61" fill="#606060"/>
<polygon points="276.72,309.58 270.05,330.90 266.13,326.83 252.03,340.45 245.01,333.18 259.11,319.57 255.19,315.50" fill="#606060"/>
<polygon points="285.95,319.84 278.18,340.78 274.47,336.51 259.68,349.37 253.05,341.75 267.85,328.89 264.14,324.62" fill="#606060"/>
<polygon points="290.94,317.94 288.46,340.14 283.84,336.90 272.59,352.95 264.32,347.16 275.56,331.10 270.94,327.86" fill="#606060"/>
<polygon points="297.14,318.54 297.77,340.86 292.74,338.29 283.84,355.76 274.84,351.17 283.74,333.71 278.71,331.14" fill="#606060"/>
<polygon points="296.78,302.70 307.48,322.30 301.83,322.30 301.83,341.90 291.73,341.90 291.73,322.30 286.08,322.30" fill="#606060"/>
<polygon points="297.98,317.83 315.24,331.99 310.00,334.11 317.34,352.28 307.98,356.06 300.64,337.89 295.40,340.01" fill="#606060"/>
<polygon points="306.20,333.56 323.71,347.42 318.51,349.63 326.17,367.67 316.87,371.62 309.21,353.57 304.01,355.78" fill="#606060"/>
<polygon points="304.28,353.73 326.48,351.31 324.32,356.53 342.45,364.00 338.60,373.34 320.48,365.87 318.32,371.09" fill="#606060"/>
<polygon points="317.08,384.46 323.37,363.03 327.37,367.03 341.23,353.17 348.37,360.31 334.51,374.17 338.51,378.17" fill="#606060"/>
<polygon points="331.51,388.71 329.71,366.45 334.87,368.75 342.84,350.84 352.07,354.95 344.09,372.85 349.25,375.15" fill="#606060"/>
<polygon points="340.05,388.71 338.25,366.45 343.41,368.75 351.38,350.84 360.61,354.95 352.63,372.85 357.79,375.15" fill="#606060"/>
<polygon points="348.59,387.41 346.79,365.15 351.95,367.45 359.92,349.54 369.15,353.65 361.17,371.55 366.33,373.85" fill="#606060"/>
<polygon points="357.13,388.01 355.33,365.75 360.49,368.05 368.46,350.14 377.69,354.25 369.71,372.15 374.87,374.45" fill="#606060"/>
<polygon points="364.44,386.31 364.19,363.98 369.18,366.63 378.38,349.32 387.30,354.07 378.10,371.37 383.09,374.02" fill="#606060"/>
<polygon points="365.21,376.80 376.83,357.73 379.65,362.63 396.63,352.83 401.68,361.57 384.70,371.37 387.53,376.27" fill="#606060"/>
<polygon points="375.71,377.60 383.84,356.80 387.47,361.13 402.49,348.53 408.98,356.27 393.97,368.87 397.60,373.20" fill="#606060"/>
<polygon points="379.73,341.79 400.19,332.84 399.70,338.47 419.23,340.18 418.35,350.24 398.82,348.53 398.33,354.16" fill="#606060"/>
<polygon points="389.38,325.50 411.46,322.15 409.53,327.45 427.95,334.16 424.49,343.65 406.07,336.95 404.14,342.25" fill="#606060"/>
<polygon points="399.37,306.50 421.69,307.03 418.86,311.93 435.84,321.73 430.79,330.47 413.81,320.67 410.99,325.57" fill="#606060"/>
<polygon points="407.91,306.50 430.23,307.03 427.40,311.93 444.38,321.73 439.33,330.47 422.35,320.67 419.53,325.57" fill="#606060"/>
<polygon points="415.00,296.50 437.08,293.15 435.15,298.45 453.57,305.16 450.11,314.65 431.69,307.95 429.76,313.25" fill="#606060"/>
<polygon points="423.79,307.26 445.97,304.68 443.85,309.92 462.02,317.26 458.24,326.62 440.07,319.28 437.95,324.52" fill="#606060"/>
<polygon points="430.90,332.60 450.50,321.90 450.50,327.55 470.10,327.55 470.10,337.65 450.50,337.65 450.50,343.30" fill="#606060"/>
<polygon points="439.44,351.20 459.04,340.50 459.04,346.15 478.64,346.15 478.64,356.25 459.04,356.25 459.04,361.90" fill="#606060"/>
<polygon points="448.28,360.40 465.72,346.46 466.70,352.03 486.01,348.62 487.76,358.57 468.46,361.97 469.44,367.54" fill="#606060"/>
<polygon points="462.50,384.10 468.42,362.57 472.49,366.49 486.10,352.39 493.37,359.41 479.75,373.51 483.82,377.43" fill="#606060"/>
<polygon points="484.66,399.10 473.96,379.50 479.61,379.50 479.61,359.90 489.71,359.90 489.71,379.50 495.36,379.50" fill="#606060"/>
<polygon points="493.20,389.50 482.50,369.90 488.15,369.90 488.15,350.30 498.25,350.30 498.25,369.90 503.90,369.90" fill="#606060"/>
<polygon points="501.74,389.50 491.04,369.90 496.69,369.90 496.69,350.30 506.79,350.30 506.79,369.90 512.44,369.90" fill="#606060"/>
<polygon points="520.67,389.62 501.21,378.67 506.00,375.68 495.61,359.05 504.18,353.70 514.56,370.32 519.35,367.33" fill="#606060"/>
<polygon points="533.39,389.61 511.66,384.45 515.44,380.25 500.88,367.14 507.63,359.63 522.20,372.75 525.98,368.55" fill="#606060"/>
<polygon points="508.94,365.30 531.02,361.95 529.09,367.25 547.51,373.96 544.05,383.45 525.63,376.75 523.70,382.05" fill="#606060"/>
<polygon points="519.84,355.76 542.04,358.24 538.80,362.86 554.85,374.11 549.06,382.38 533.00,371.14 529.76,375.76" fill="#606060"/>
<polygon points="532.37,340.55 552.87,349.41 548.42,352.89 560.49,368.34 552.53,374.55 540.46,359.11 536.01,362.59" fill="#606060"/>
<polygon points="539.22,338.44 560.60,344.89 556.58,348.85 570.34,362.81 563.15,369.90 549.38,355.95 545.36,359.91" fill="#606060"/>
<polygon points="545.46,333.76 567.66,336.24 564.42,340.86 580.47,352.11 574.68,360.38 558.62,349.14 555.38,353.76" fill="#606060"/>
<polygon points="551.13,339.93 572.83,334.66 571.37,340.12 590.30,345.19 587.69,354.95 568.75,349.88 567.29,355.34" fill="#606060"/>
<polygon points="559.00,341.20 578.60,330.50 578.60,336.15 598.20,336.15 598.20,346.25 578.60,346.25 578.60,351.90" fill="#606060"/>
<polygon points="568.50,366.06 583.83,349.82 585.58,355.20 604.22,349.14 607.34,358.75 588.70,364.80 590.45,370.18" fill="#606060"/>
<polygon points="579.62,373.24 589.54,353.24 592.78,357.86 608.84,346.62 614.63,354.89 598.58,366.14 601.82,370.76" fill="#606060"/>
<polygon points="611.56,369.47 594.30,355.31 599.54,353.19 592.20,335.02 601.56,331.24 608.90,349.41 614.14,347.29" fill="#606060"/>
<polygon points="622.56,364.97 603.49,353.35 608.39,350.52 598.59,333.55 607.33,328.50 617.13,345.48 622.03,342.65" fill="#606060"/>
<polygon points="634.16,364.49 613.22,356.72 617.49,353.01 604.63,338.22 612.25,331.59 625.11,346.39 629.38,342.68" fill="#606060"/>
<polygon points="642.95,355.57 621.89,348.16 626.09,344.38 612.97,329.81 620.48,323.06 633.59,337.62 637.79,333.84" fill="#606060"/>
<polygon points="655.69,343.20 633.36,343.45 636.01,338.46 618.70,329.26 623.45,320.34 640.75,329.54 643.40,324.55" fill="#606060"/>
<polygon points="666.45,333.71 645.99,342.66 646.48,337.03 626.95,335.32 627.83,325.26 647.36,326.97 647.85,321.34" fill="#606060"/>
<polygon points="674.39,315.43 658.23,330.84 656.77,325.38 637.83,330.45 635.22,320.69 654.15,315.62 652.69,310.16" fill="#606060"/>
<polygon points="680.06,319.76 670.14,339.76 666.90,335.14 650.84,346.38 645.05,338.11 661.10,326.86 657.86,322.24" fill="#606060"/>
<polygon points="685.65,318.43 680.49,340.16 676.29,336.38 663.18,350.94 655.67,344.19 668.79,329.62 664.59,325.84" fill="#606060"/>
<polygon points="691.47,316.38 690.15,338.67 685.36,335.68 674.98,352.30 666.41,346.95 676.80,330.32 672.01,327.33" fill="#606060"/>
<polygon points="695.68,311.36 699.80,333.31 694.42,331.56 688.37,350.20 678.76,347.08 684.82,328.44 679.44,326.69" fill="#606060"/>
<polygon points="698.16,303.40 708.86,323.00 703.21,323.00 703.21,342.60 693.11,342.60 693.11,323.00 687.46,323.00" fill="#606060"/>
<polygon points="701.63,304.07 717.04,320.23 711.58,321.69 716.65,340.63 706.89,343.24 701.82,324.31 696.36,325.77" fill="#606060"/>
<polygon points="702.64,307.99 723.44,316.12 719.11,319.75 731.71,334.77 723.97,341.26 711.37,326.25 707.04,329.88" fill="#606060"/>
<polygon points="705.36,325.20 727.44,321.85 725.51,327.15 743.93,333.86 740.47,343.35 722.05,336.65 720.12,341.95" fill="#606060"/>
<polygon points="713.15,339.92 734.54,333.53 733.37,339.06 752.54,343.14 750.44,353.01 731.27,348.94 730.10,354.47" fill="#606060"/>
<polygon points="721.45,349.27 742.35,341.40 741.56,347.00 760.97,349.73 759.57,359.73 740.16,357.00 739.37,362.60" fill="#606060"/>
<polygon points="729.81,359.82 749.77,349.81 749.58,355.45 769.16,356.14 768.81,366.23 749.22,365.55 749.03,371.19" fill="#606060"/>
<polygon points="738.35,360.32 758.31,350.31 758.12,355.95 777.70,356.64 777.35,366.73 757.76,366.05 757.57,371.69" fill="#606060"/>
<polygon points="746.89,360.32 766.85,350.31 766.66,355.95 786.24,356.64 785.89,366.73 766.30,366.05 766.11,371.69" fill="#606060"/>
<polygon points="758.05,361.80 769.67,342.73 772.50,347.63 789.47,337.83 794.52,346.57 777.54,356.37 780.37,361.27" fill="#606060"/>
<polygon points="766.25,352.20 778.54,333.55 781.19,338.54 798.49,329.34 803.24,338.26 785.93,347.46 788.58,352.45" fill="#606060"/>
<polygon points="773.17,343.07 789.33,327.66 790.79,333.12 809.73,328.05 812.34,337.81 793.41,342.88 794.87,348.34" fill="#606060"/>
<polygon points="781.11,337.71 799.71,325.34 800.20,330.97 819.73,329.26 820.61,339.32 801.08,341.03 801.57,346.66" fill="#606060"/>
<polygon points="789.58,332.60 809.18,321.90 809.18,327.55 828.78,327.55 828.78,337.65 809.18,337.65 809.18,343.30" fill="#606060"/>
<polygon points="798.12,323.00 817.72,312.30 817.72,317.95 837.32,317.95 837.32,328.05 817.72,328.05 817.72,333.70" fill="#606060"/>
<polygon points="808.13,296.16 830.32,293.70 828.18,298.93 846.31,306.37 842.48,315.71 824.34,308.27 822.20,313.50" fill="#606060"/>
<polygon points="817.04,295.22 839.32,293.80 836.93,298.92 854.70,307.21 850.43,316.36 832.67,308.08 830.28,313.20" fill="#606060"/>
<polygon points="825.58,295.22 847.86,293.80 845.47,298.92 863.24,307.21 858.97,316.36 841.21,308.08 838.82,313.20" fill="#606060"/>
<polygon points="833.46,308.30 855.54,304.95 853.61,310.25 872.03,316.96 868.57,326.45 850.15,319.75 848.22,325.05" fill="#606060"/>
<polygon points="840.82,322.80 860.42,312.10 860.42,317.75 880.02,317.75 880.02,327.85 860.42,327.85 860.42,333.50" fill="#606060"/>
<polygon points="849.36,351.90 868.96,341.20 868.96,346.85 888.56,346.85 888.56,356.95 868.96,356.95 868.96,362.60" fill="#606060"/>
<polygon points="857.90,351.10 877.50,340.40 877.50,346.05 897.10,346.05 897.10,356.15 877.50,356.15 877.50,361.80" fill="#606060"/>
<polygon points="866.44,370.70 886.04,360.00 886.04,365.65 905.64,365.65 905.64,375.75 886.04,375.75 886.04,381.40" fill="#606060"/>
<polygon points="877.61,380.50 889.23,361.43 892.05,366.33 909.03,356.53 914.08,365.27 897.10,375.07 899.93,379.97" fill="#606060"/>
<polygon points="895.78,388.97 893.20,366.79 898.44,368.91 905.78,350.74 915.14,354.52 907.80,372.69 913.04,374.81" fill="#606060"/>
<polygon points="904.32,388.97 901.74,366.79 906.98,368.91 914.32,350.74 923.68,354.52 916.34,372.69 921.58,374.81" fill="#606060"/>
<polygon points="912.86,388.97 910.28,366.79 915.52,368.91 922.86,350.74 932.22,354.52 924.88,372.69 930.12,374.81" fill="#606060"/>
<polygon points="910.32,359.30 932.40,355.95 930.47,361.25 948.89,367.96 945.43,377.45 927.01,370.75 925.08,376.05" fill="#606060"/>
<polygon points="918.86,357.30 940.94,353.95 939.01,359.25 957.43,365.96 953.97,375.45 935.55,368.75 933.62,374.05" fill="#606060"/>
<polygon points="930.81,352.40 952.70,356.80 949.07,361.13 964.08,373.73 957.59,381.47 942.57,368.87 938.94,373.20" fill="#606060"/>
<polygon points="939.79,346.89 961.52,352.05 957.74,356.25 972.30,369.36 965.55,376.87 950.98,363.75 947.20,367.95" fill="#606060"/>
<polygon points="949.04,339.14 970.47,345.43 966.47,349.43 980.33,363.29 973.19,370.43 959.33,356.57 955.33,360.57" fill="#606060"/>
<polygon points="957.58,328.44 979.01,334.73 975.01,338.73 988.87,352.59 981.73,359.73 967.87,345.87 963.87,349.87" fill="#606060"/>
<polygon points="964.53,328.93 986.57,332.57 983.09,337.02 998.53,349.09 992.32,357.05 976.87,344.98 973.39,349.43" fill="#606060"/>
<polygon points="971.21,335.80 993.54,335.55 990.89,340.54 1008.20,349.74 1003.45,358.66 986.15,349.46 983.50,354.45" fill="#606060"/>
<polygon points="978.64,344.30 1000.72,340.95 998.79,346.25 1017.21,352.96 1013.75,362.45 995.33,355.75 993.40,361.05" fill="#606060"/>
<polygon points="986.07,355.29 1006.53,346.34 1006.04,351.97 1025.57,353.68 1024.69,363.74 1005.16,362.03 1004.67,367.66" fill="#606060"/>
<polygon points="1000.28,384.36 1006.57,362.93 1010.57,366.93 1024.43,353.07 1031.57,360.21 1017.71,374.07 1021.71,378.07" fill="#606060"/>
</g>
<polyline points="66.20,361.00 74.74,371.00 83.28,370.50 91.82,371.00 100.36,374.00 108.90,373.00 117.44,370.70 125.98,352.40 134.52,344.00 143.06,342.30 151.60,332.00 160.14,334.00 168.68,344.00 177.22,352.00 185.76,351.20 194.30,346.00 202.84,333.20 211.38,314.30 219.92,313.00 228.46,314.00 237.00,314.00 245.54,314.50 254.08,314.50 262.62,323.20 271.16,332.70 279.70,334.00 288.24,336.00 296.78,322.30 305.32,336.00 313.86,351.60 322.40,361.20 330.94,370.60 339.48,370.80 348.02,370.80 356.56,369.50 365.10,370.10 373.64,369.00 382.18,367.00 390.72,365.00 399.26,343.50 407.80,332.20 416.34,316.30 424.88,316.30 433.42,303.20 441.96,314.60 450.50,332.60 459.04,351.20 467.58,357.00 476.12,370.00 484.66,379.50 493.20,369.90 501.74,369.90 510.28,373.00 518.82,376.50 527.36,372.00 535.90,367.00 544.44,356.00 552.98,352.40 561.52,345.00 570.06,345.00 578.60,341.20 587.14,360.00 595.68,362.00 604.22,351.30 612.76,348.00 621.30,349.70 629.84,341.00 638.38,334.00 646.92,332.00 655.46,320.50 664.00,331.00 672.54,333.00 681.08,333.00 689.62,330.00 698.16,323.00 706.70,323.00 715.24,323.00 723.78,331.90 732.32,344.00 740.86,352.00 749.40,360.50 757.94,361.00 766.48,361.00 775.02,352.00 783.56,343.00 792.10,338.00 800.64,336.00 809.18,332.60 817.72,323.00 826.26,303.60 834.80,303.50 843.34,303.50 851.88,315.00 860.42,322.80 868.96,351.90 877.50,351.10 886.04,370.70 894.58,370.70 903.12,370.80 911.66,370.80 920.20,370.80 928.74,366.00 937.28,364.00 945.82,365.00 954.36,360.00 962.90,353.00 971.44,342.30 979.98,341.00 988.52,345.00 997.06,351.00 1005.60,357.00 1014.14,370.50" fill="none" stroke="#777" stroke-width="1"/>
<g fill="#ff0000" stroke="#1a0000" stroke-width="0.95" stroke-linejoin="miter">
<polygon points="48.03,353.66 70.21,351.08 68.09,356.32 86.26,363.66 82.48,373.02 64.31,365.68 62.19,370.92"/>
<polygon points="67.08,352.96 84.59,366.82 79.39,369.03 87.05,387.07 77.75,391.02 70.09,372.97 64.89,375.18"/>
<polygon points="68.95,357.13 90.58,362.67 86.72,366.81 101.06,380.17 94.17,387.56 79.84,374.19 75.98,378.33"/>
<polygon points="74.06,362.72 96.34,361.30 93.95,366.42 111.72,374.71 107.45,383.86 89.69,375.58 87.30,380.70"/>
<polygon points="85.35,361.40 107.24,365.80 103.61,370.13 118.62,382.73 112.13,390.47 97.11,377.87 93.48,382.20"/>
<polygon points="101.56,354.83 118.82,368.99 113.58,371.11 120.92,389.28 111.56,393.06 104.22,374.89 98.98,377.01"/>
<polygon points="103.58,356.84 125.01,363.13 121.01,367.13 134.87,380.99 127.73,388.13 113.87,374.27 109.87,378.27"/>
<polygon points="112.71,337.97 133.86,345.16 129.70,348.98 142.96,363.41 135.53,370.25 122.26,355.82 118.10,359.64"/>
<polygon points="120.90,329.90 142.22,336.57 138.15,340.49 151.77,354.59 144.50,361.61 130.89,347.51 126.82,351.43"/>
<polygon points="129.44,328.20 150.76,334.87 146.69,338.79 160.31,352.89 153.04,359.91 139.43,345.81 135.36,349.73"/>
<polygon points="136.59,319.40 158.48,323.80 154.85,328.13 169.86,340.73 163.37,348.47 148.35,335.87 144.72,340.20"/>
<polygon points="145.13,321.40 167.02,325.80 163.39,330.13 178.40,342.73 171.91,350.47 156.89,337.87 153.26,342.20"/>
<polygon points="156.08,328.99 176.88,337.12 172.55,340.75 185.15,355.77 177.41,362.26 164.81,347.25 160.48,350.88"/>
<polygon points="163.36,338.14 184.79,344.43 180.79,348.43 194.65,362.29 187.51,369.43 173.65,355.57 169.65,359.57"/>
<polygon points="185.76,331.60 196.46,351.20 190.81,351.20 190.81,370.80 180.71,370.80 180.71,351.20 175.06,351.20"/>
<polygon points="210.92,335.61 199.97,355.07 196.98,350.28 180.35,360.67 175.00,352.10 191.62,341.72 188.63,336.93"/>
<polygon points="220.46,324.61 207.53,342.82 205.05,337.74 187.44,346.33 183.01,337.25 200.63,328.66 198.15,323.58"/>
<polygon points="229.80,307.60 215.04,324.35 213.11,319.05 194.69,325.75 191.23,316.26 209.65,309.55 207.72,304.25"/>
<polygon points="239.09,308.92 222.14,323.47 220.97,317.94 201.80,322.01 199.70,312.14 218.87,308.06 217.70,302.53"/>
<polygon points="247.87,311.27 229.95,324.60 229.16,319.00 209.75,321.73 208.35,311.73 227.76,309.00 226.97,303.40"/>
<polygon points="256.30,310.60 238.86,324.54 237.88,318.97 218.57,322.38 216.82,312.43 236.12,309.03 235.14,303.46"/>
<polygon points="264.47,309.43 248.31,324.84 246.85,319.38 227.91,324.45 225.30,314.69 244.23,309.62 242.77,304.16"/>
<polygon points="272.19,307.00 258.17,324.39 256.01,319.17 237.90,326.67 234.04,317.34 252.15,309.83 249.99,304.61"/>
<polygon points="276.72,309.58 270.05,330.90 266.13,326.83 252.03,340.45 245.01,333.18 259.11,319.57 255.19,315.50"/>
<polygon points="285.95,319.84 278.18,340.78 274.47,336.51 259.68,349.37 253.05,341.75 267.85,328.89 264.14,324.62"/>
<polygon points="290.94,317.94 288.46,340.14 283.84,336.90 272.59,352.95 264.32,347.16 275.56,331.10 270.94,327.86"/>
<polygon points="297.14,318.54 297.77,340.86 292.74,338.29 283.84,355.76 274.84,351.17 283.74,333.71 278.71,331.14"/>
<polygon points="296.78,302.70 307.48,322.30 301.83,322.30 301.83,341.90 291.73,341.90 291.73,322.30 286.08,322.30"/>
<polygon points="297.98,317.83 315.24,331.99 310.00,334.11 317.34,352.28 307.98,356.06 300.64,337.89 295.40,340.01"/>
<polygon points="306.20,333.56 323.71,347.42 318.51,349.63 326.17,367.67 316.87,371.62 309.21,353.57 304.01,355.78"/>
<polygon points="304.28,353.73 326.48,351.31 324.32,356.53 342.45,364.00 338.60,373.34 320.48,365.87 318.32,371.09"/>
<polygon points="317.08,384.46 323.37,363.03 327.37,367.03 341.23,353.17 348.37,360.31 334.51,374.17 338.51,378.17"/>
<polygon points="331.51,388.71 329.71,366.45 334.87,368.75 342.84,350.84 352.07,354.95 344.09,372.85 349.25,375.15"/>
<polygon points="340.05,388.71 338.25,366.45 343.41,368.75 351.38,350.84 360.61,354.95 352.63,372.85 357.79,375.15"/>
<polygon points="348.59,387.41 346.79,365.15 351.95,367.45 359.92,349.54 369.15,353.65 361.17,371.55 366.33,373.85"/>
<polygon points="357.13,388.01 355.33,365.75 360.49,368.05 368.46,350.14 377.69,354.25 369.71,372.15 374.87,374.45"/>
<polygon points="364.44,386.31 364.19,363.98 369.18,366.63 378.38,349.32 387.30,354.07 378.10,371.37 383.09,374.02"/>
<polygon points="365.21,376.80 376.83,357.73 379.65,362.63 396.63,352.83 401.68,361.57 384.70,371.37 387.53,376.27"/>
<polygon points="375.71,377.60 383.84,356.80 387.47,361.13 402.49,348.53 408.98,356.27 393.97,368.87 397.60,373.20"/>
<polygon points="379.73,341.79 400.19,332.84 399.70,338.47 419.23,340.18 418.35,350.24 398.82,348.53 398.33,354.16"/>
<polygon points="389.38,325.50 411.46,322.15 409.53,327.45 427.95,334.16 424.49,343.65 406.07,336.95 404.14,342.25"/>
<polygon points="399.37,306.50 421.69,307.03 418.86,311.93 435.84,321.73 430.79,330.47 413.81,320.67 410.99,325.57"/>
<polygon points="407.91,306.50 430.23,307.03 427.40,311.93 444.38,321.73 439.33,330.47 422.35,320.67 419.53,325.57"/>
<polygon points="415.00,296.50 437.08,293.15 435.15,298.45 453.57,305.16 450.11,314.65 431.69,307.95 429.76,313.25"/>
<polygon points="423.79,307.26 445.97,304.68 443.85,309.92 462.02,317.26 458.24,326.62 440.07,319.28 437.95,324.52"/>
<polygon points="430.90,332.60 450.50,321.90 450.50,327.55 470.10,327.55 470.10,337.65 450.50,337.65 450.50,343.30"/>
<polygon points="439.44,351.20 459.04,340.50 459.04,346.15 478.64,346.15 478.64,356.25 459.04,356.25 459.04,361.90"/>
<polygon points="448.28,360.40 465.72,346.46 466.70,352.03 486.01,348.62 487.76,358.57 468.46,361.97 469.44,367.54"/>
<polygon points="462.50,384.10 468.42,362.57 472.49,366.49 486.10,352.39 493.37,359.41 479.75,373.51 483.82,377.43"/>
<polygon points="484.66,399.10 473.96,379.50 479.61,379.50 479.61,359.90 489.71,359.90 489.71,379.50 495.36,379.50"/>
<polygon points="493.20,389.50 482.50,369.90 488.15,369.90 488.15,350.30 498.25,350.30 498.25,369.90 503.90,369.90"/>
<polygon points="501.74,389.50 491.04,369.90 496.69,369.90 496.69,350.30 506.79,350.30 506.79,369.90 512.44,369.90"/>
<polygon points="520.67,389.62 501.21,378.67 506.00,375.68 495.61,359.05 504.18,353.70 514.56,370.32 519.35,367.33"/>
<polygon points="533.39,389.61 511.66,384.45 515.44,380.25 500.88,367.14 507.63,359.63 522.20,372.75 525.98,368.55"/>
<polygon points="508.94,365.30 531.02,361.95 529.09,367.25 547.51,373.96 544.05,383.45 525.63,376.75 523.70,382.05"/>
<polygon points="519.84,355.76 542.04,358.24 538.80,362.86 554.85,374.11 549.06,382.38 533.00,371.14 529.76,375.76"/>
<polygon points="532.37,340.55 552.87,349.41 548.42,352.89 560.49,368.34 552.53,374.55 540.46,359.11 536.01,362.59"/>
<polygon points="539.22,338.44 560.60,344.89 556.58,348.85 570.34,362.81 563.15,369.90 549.38,355.95 545.36,359.91"/>
<polygon points="545.46,333.76 567.66,336.24 564.42,340.86 580.47,352.11 574.68,360.38 558.62,349.14 555.38,353.76"/>
<polygon points="551.13,339.93 572.83,334.66 571.37,340.12 590.30,345.19 587.69,354.95 568.75,349.88 567.29,355.34"/>
<polygon points="559.00,341.20 578.60,330.50 578.60,336.15 598.20,336.15 598.20,346.25 578.60,346.25 578.60,351.90"/>
<polygon points="568.50,366.06 583.83,349.82 585.58,355.20 604.22,349.14 607.34,358.75 588.70,364.80 590.45,370.18"/>
<polygon points="579.62,373.24 589.54,353.24 592.78,357.86 608.84,346.62 614.63,354.89 598.58,366.14 601.82,370.76"/>
<polygon points="611.56,369.47 594.30,355.31 599.54,353.19 592.20,335.02 601.56,331.24 608.90,349.41 614.14,347.29"/>
<polygon points="622.56,364.97 603.49,353.35 608.39,350.52 598.59,333.55 607.33,328.50 617.13,345.48 622.03,342.65"/>
<polygon points="634.16,364.49 613.22,356.72 617.49,353.01 604.63,338.22 612.25,331.59 625.11,346.39 629.38,342.68"/>
<polygon points="642.95,355.57 621.89,348.16 626.09,344.38 612.97,329.81 620.48,323.06 633.59,337.62 637.79,333.84"/>
<polygon points="655.69,343.20 633.36,343.45 636.01,338.46 618.70,329.26 623.45,320.34 640.75,329.54 643.40,324.55"/>
<polygon points="666.45,333.71 645.99,342.66 646.48,337.03 626.95,335.32 627.83,325.26 647.36,326.97 647.85,321.34"/>
<polygon points="674.39,315.43 658.23,330.84 656.77,325.38 637.83,330.45 635.22,320.69 654.15,315.62 652.69,310.16"/>
<polygon points="680.06,319.76 670.14,339.76 666.90,335.14 650.84,346.38 645.05,338.11 661.10,326.86 657.86,322.24"/>
<polygon points="685.65,318.43 680.49,340.16 676.29,336.38 663.18,350.94 655.67,344.19 668.79,329.62 664.59,325.84"/>
<polygon points="691.47,316.38 690.15,338.67 685.36,335.68 674.98,352.30 666.41,346.95 676.80,330.32 672.01,327.33"/>
<polygon points="695.68,311.36 699.80,333.31 694.42,331.56 688.37,350.20 678.76,347.08 684.82,328.44 679.44,326.69"/>
<polygon points="698.16,303.40 708.86,323.00 703.21,323.00 703.21,342.60 693.11,342.60 693.11,323.00 687.46,323.00"/>
<polygon points="701.63,304.07 717.04,320.23 711.58,321.69 716.65,340.63 706.89,343.24 701.82,324.31 696.36,325.77"/>
<polygon points="702.64,307.99 723.44,316.12 719.11,319.75 731.71,334.77 723.97,341.26 711.37,326.25 707.04,329.88"/>
<polygon points="705.36,325.20 727.44,321.85 725.51,327.15 743.93,333.86 740.47,343.35 722.05,336.65 720.12,341.95"/>
<polygon points="713.15,339.92 734.54,333.53 733.37,339.06 752.54,343.14 750.44,353.01 731.27,348.94 730.10,354.47"/>
<polygon points="721.45,349.27 742.35,341.40 741.56,347.00 760.97,349.73 759.57,359.73 740.16,357.00 739.37,362.60"/>
<polygon points="729.81,359.82 749.77,349.81 749.58,355.45 769.16,356.14 768.81,366.23 749.22,365.55 749.03,371.19"/>
<polygon points="738.35,360.32 758.31,350.31 758.12,355.95 777.70,356.64 777.35,366.73 757.76,366.05 757.57,371.69"/>
<polygon points="746.89,360.32 766.85,350.31 766.66,355.95 786.24,356.64 785.89,366.73 766.30,366.05 766.11,371.69"/>
<polygon points="758.05,361.80 769.67,342.73 772.50,347.63 789.47,337.83 794.52,346.57 777.54,356.37 780.37,361.27"/>
<polygon points="766.25,352.20 778.54,333.55 781.19,338.54 798.49,329.34 803.24,338.26 785.93,347.46 788.58,352.45"/>
<polygon points="773.17,343.07 789.33,327.66 790.79,333.12 809.73,328.05 812.34,337.81 793.41,342.88 794.87,348.34"/>
<polygon points="781.11,337.71 799.71,325.34 800.20,330.97 819.73,329.26 820.61,339.32 801.08,341.03 801.57,346.66"/>
<polygon points="789.58,332.60 809.18,321.90 809.18,327.55 828.78,327.55 828.78,337.65 809.18,337.65 809.18,343.30"/>
<polygon points="798.12,323.00 817.72,312.30 817.72,317.95 837.32,317.95 837.32,328.05 817.72,328.05 817.72,333.70"/>
<polygon points="808.13,296.16 830.32,293.70 828.18,298.93 846.31,306.37 842.48,315.71 824.34,308.27 822.20,313.50"/>
<polygon points="817.04,295.22 839.32,293.80 836.93,298.92 854.70,307.21 850.43,316.36 832.67,308.08 830.28,313.20"/>
<polygon points="825.58,295.22 847.86,293.80 845.47,298.92 863.24,307.21 858.97,316.36 841.21,308.08 838.82,313.20"/>
<polygon points="833.46,308.30 855.54,304.95 853.61,310.25 872.03,316.96 868.57,326.45 850.15,319.75 848.22,325.05"/>
<polygon points="840.82,322.80 860.42,312.10 860.42,317.75 880.02,317.75 880.02,327.85 860.42,327.85 860.42,333.50"/>
<polygon points="849.36,351.90 868.96,341.20 868.96,346.85 888.56,346.85 888.56,356.95 868.96,356.95 868.96,362.60"/>
<polygon points="857.90,351.10 877.50,340.40 877.50,346.05 897.10,346.05 897.10,356.15 877.50,356.15 877.50,361.80"/>
<polygon points="866.44,370.70 886.04,360.00 886.04,365.65 905.64,365.65 905.64,375.75 886.04,375.75 886.04,381.40"/>
<polygon points="877.61,380.50 889.23,361.43 892.05,366.33 909.03,356.53 914.08,365.27 897.10,375.07 899.93,379.97"/>
<polygon points="895.78,388.97 893.20,366.79 898.44,368.91 905.78,350.74 915.14,354.52 907.80,372.69 913.04,374.81"/>
<polygon points="904.32,388.97 901.74,366.79 906.98,368.91 914.32,350.74 923.68,354.52 916.34,372.69 921.58,374.81"/>
<polygon points="912.86,388.97 910.28,366.79 915.52,368.91 922.86,350.74 932.22,354.52 924.88,372.69 930.12,374.81"/>
<polygon points="910.32,359.30 932.40,355.95 930.47,361.25 948.89,367.96 945.43,377.45 927.01,370.75 925.08,376.05"/>
<polygon points="918.86,357.30 940.94,353.95 939.01,359.25 957.43,365.96 953.97,375.45 935.55,368.75 933.62,374.05"/>
<polygon points="930.81,352.40 952.70,356.80 949.07,361.13 964.08,373.73 957.59,381.47 942.57,368.87 938.94,373.20"/>
<polygon points="939.79,346.89 961.52,352.05 957.74,356.25 972.30,369.36 965.55,376.87 950.98,363.75 947.20,367.95"/>
<polygon points="949.04,339.14 970.47,345.43 966.47,349.43 980.33,363.29 973.19,370.43 959.33,356.57 955.33,360.57"/>
<polygon points="957.58,328.44 979.01,334.73 975.01,338.73 988.87,352.59 981.73,359.73 967.87,345.87 963.87,349.87"/>
<polygon points="964.53,328.93 986.57,332.57 983.09,337.02 998.53,349.09 992.32,357.05 976.87,344.98 973.39,349.43"/>
<polygon points="971.21,335.80 993.54,335.55 990.89,340.54 1008.20,349.74 1003.45,358.66 986.15,349.46 983.50,354.45"/>
<polygon points="978.64,344.30 1000.72,340.95 998.79,346.25 1017.21,352.96 1013.75,362.45 995.33,355.75 993.40,361.05"/>
<polygon points="986.07,355.29 1006.53,346.34 1006.04,351.97 1025.57,353.68 1024.69,363.74 1005.16,362.03 1004.67,367.66"/>
<polygon points="1000.28,384.36 1006.57,362.93 1010.57,366.93 1024.43,353.07 1031.57,360.21 1017.71,374.07 1021.71,378.07"/>
</g>
</svg></body></html>
